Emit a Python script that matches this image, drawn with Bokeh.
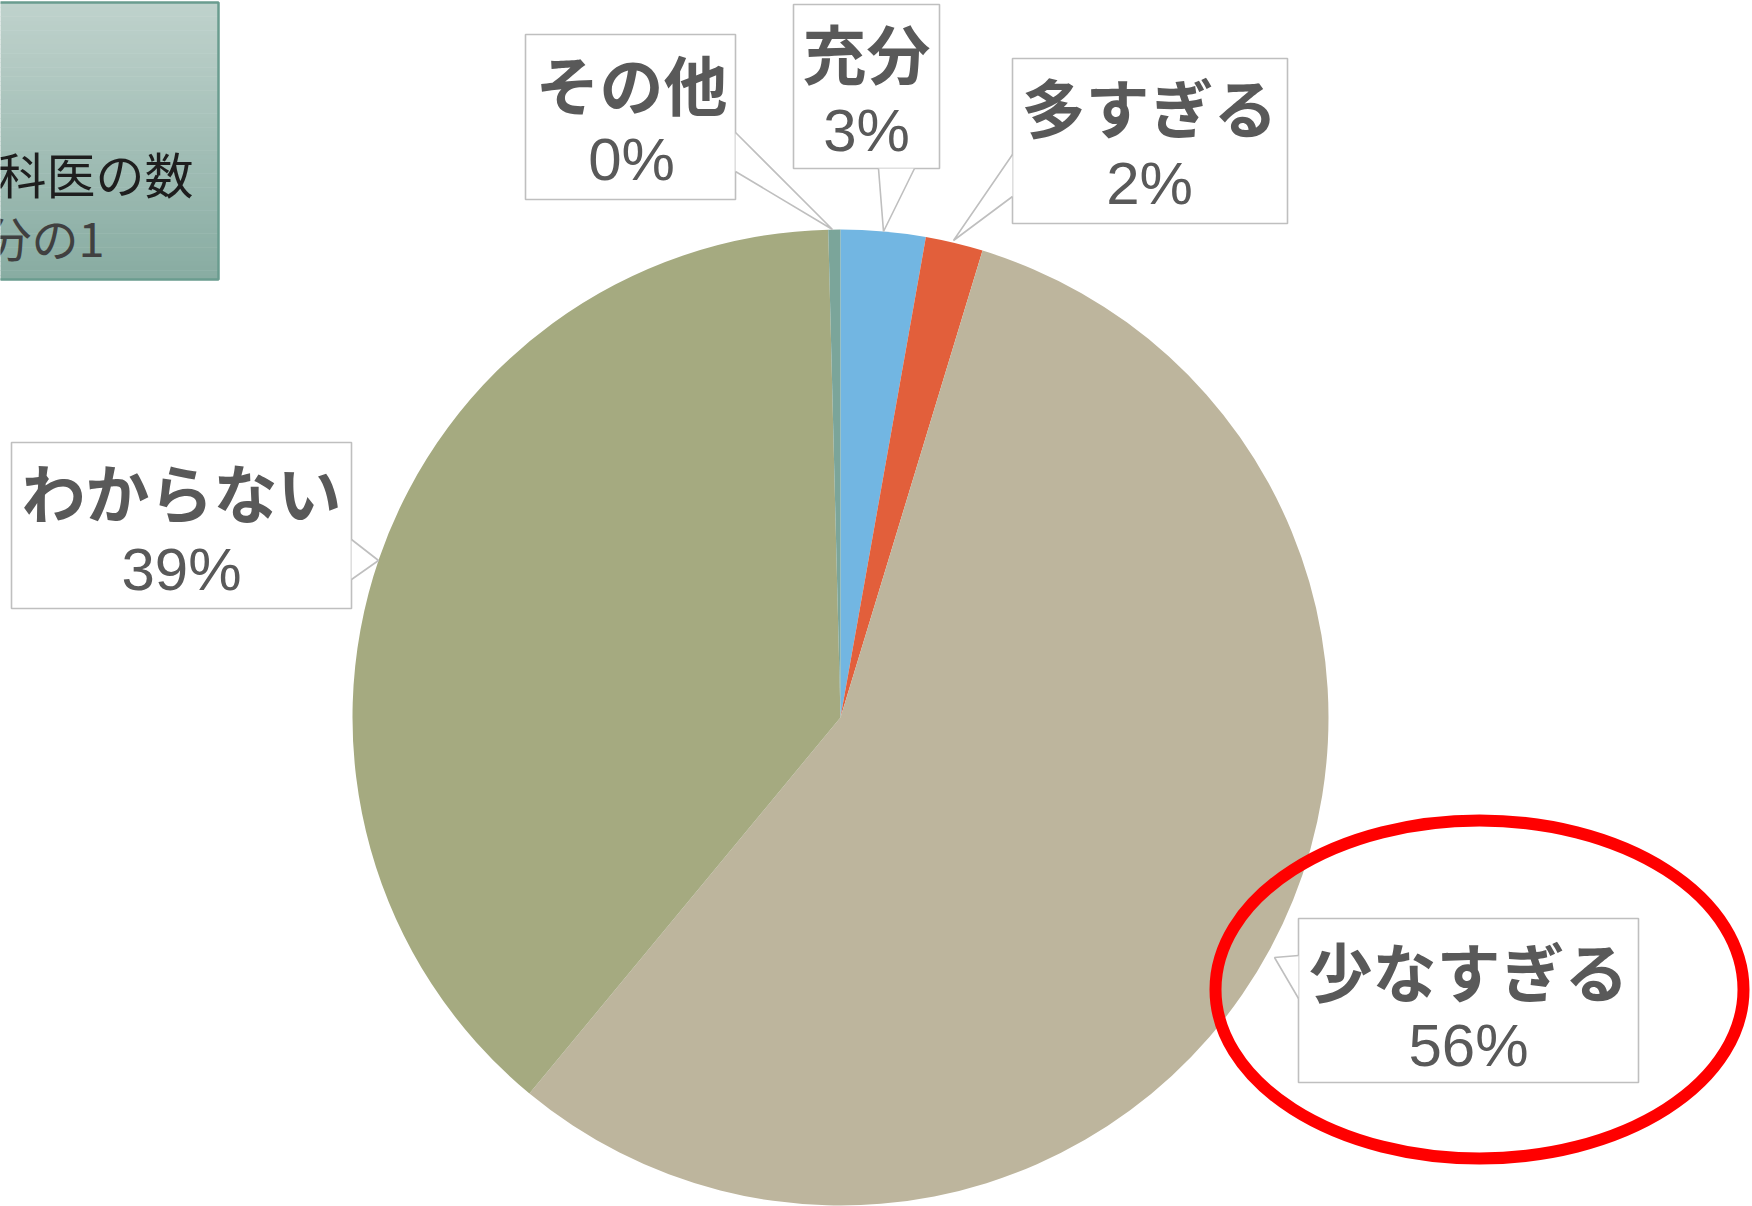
import math
from bokeh.plotting import figure
from bokeh.models import Range1d, ColumnDataSource
from bokeh.core.properties import value
from bokeh.embed import file_html
from bokeh.resources import INLINE

# ---- data (clockwise from 12 o'clock) ----
categories = ["充分", "多すぎる", "少なすぎる", "わからない", "その他"]
shares = [2.8, 1.9, 56.3, 38.6, 0.4]          # percent
pct_labels = ["3%", "2%", "56%", "39%", "0%"]
colors = ["#72B6E2", "#E25F3B", "#BDB59D", "#A5AA80", "#7BA59A"]

# ---- layout (pixels, y measured from top) ----
W, H = 1752, 1206
CX, CY, R = 840, 717, 488
boxes = {
    "充分":       dict(box=(793, 4, 939, 168),    ptr=[(878, 168), (883, 231), (914, 168)], tx=866,  ty1=50,  ty2=130),
    "多すぎる":   dict(box=(1012, 58, 1287, 223), ptr=[(1012, 154), (953, 240), (1012, 196)], tx=1149, ty1=104, ty2=183),
    "少なすぎる": dict(box=(1298, 918, 1638, 1082), ptr=[(1298, 955), (1274, 957), (1298, 998)], tx=1468, ty1=968, ty2=1045),
    "わからない": dict(box=(11, 442, 351, 608),   ptr=[(351, 539), (378, 560), (351, 579)], tx=181,  ty1=489, ty2=569),
    "その他":     dict(box=(525, 34, 735, 199),   ptr=[(735, 132), (832, 229), (735, 171)], tx=631,  ty1=81,  ty2=159),
}

def Y(y):
    return H - y

p = figure(width=W, height=H, output_backend="svg", toolbar_location=None,
           x_range=Range1d(0, W), y_range=Range1d(0, H),
           min_border=0, outline_line_color=None)
p.axis.visible = False
p.grid.visible = False
p.background_fill_color = "white"
p.border_fill_color = "white"

# ---- top-left gradient box (cropped at the page edge) ----
top_c = (0xBF, 0xD2, 0xCC)
bot_c = (0x88, 0xAC, 0xA2)
bx0, by0, bx1, by1 = -10, 2, 218, 279
n = 60
step = (by1 - by0) / n
for i in range(n):
    t = i / (n - 1)
    c = tuple(int(round(top_c[k] + (bot_c[k] - top_c[k]) * t)) for k in range(3))
    p.quad(left=bx0, right=bx1, top=Y(by0 + i * step), bottom=Y(by0 + (i + 1) * step + 0.5),
           fill_color="#%02x%02x%02x" % c, line_color=None)
p.quad(left=bx0, right=bx1, top=Y(by0), bottom=Y(by1), fill_color=None,
       line_color="#6A9C8F", line_width=2.5)
p.text(x=[193], y=[Y(172)], text=["科医の数"], text_align="right", text_baseline="middle",
       text_font=value("Noto Sans CJK JP"), text_font_size="49px", text_color="#1E1E1E")
p.text(x=[104], y=[Y(236)], text=["分の1"], text_align="right", text_baseline="middle",
       text_font=value("Noto Sans CJK JP"), text_font_size="47px", text_color="#404040")

# ---- pie ----
starts, ends = [], []
cum = 0.0
total = sum(shares)
for v in shares:
    a0 = math.pi / 2 - 2 * math.pi * (cum + v) / total
    a1 = math.pi / 2 - 2 * math.pi * cum / total
    starts.append(a0)
    ends.append(a1)
    cum += v
src = ColumnDataSource(dict(cat=categories, start=starts, end=ends, color=colors))
p.wedge(x=CX, y=Y(CY), radius=R, start_angle="start", end_angle="end",
        fill_color="color", line_color=None, source=src)

# ---- callout label boxes ----
for cat, pl in zip(categories, pct_labels):
    b = boxes[cat]
    l, t, r, bt = b["box"]
    p.quad(left=l, right=r, top=Y(t), bottom=Y(bt), fill_color="white",
           line_color="#BFBFBF", line_width=1.6)
    px = [q[0] for q in b["ptr"]]
    py = [Y(q[1]) for q in b["ptr"]]
    p.patch(px, py, fill_color="white", line_color=None)
    p.line(px, py, line_color="#BFBFBF", line_width=1.6)
    p.text(x=[b["tx"]], y=[Y(b["ty1"])], text=[cat], text_align="center", text_baseline="middle",
           text_font=value("Noto Sans CJK JP"), text_font_style="bold",
           text_font_size="64px", text_color="#595959")
    p.text(x=[b["tx"]], y=[Y(b["ty2"])], text=[pl], text_align="center", text_baseline="middle",
           text_font=value("Liberation Sans"), text_font_size="60px", text_color="#595959")

# ---- red highlight ellipse ----
p.ellipse(x=1479, y=Y(989), width=528, height=338, fill_color=None,
          line_color="#FF0000", line_width=12)

open("out.html", "w").write(file_html(p, INLINE))
